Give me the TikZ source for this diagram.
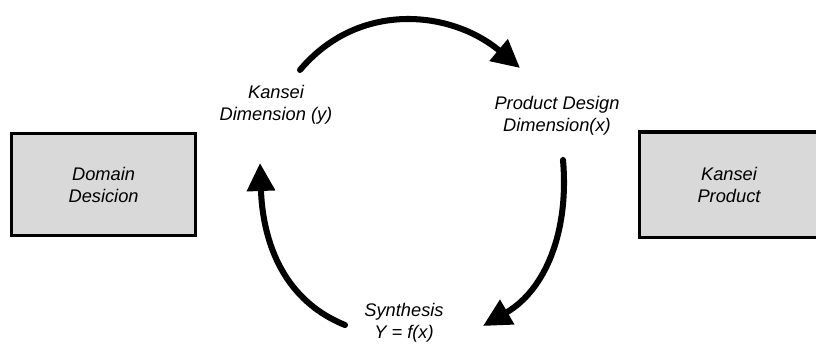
\documentclass[tikz,border=0pt]{standalone}
\usepackage{fontspec}
\setmainfont{Liberation Sans}
\usetikzlibrary{arrows.meta}

\definecolor{boxgray}{HTML}{D9D9D9}
\tikzset{
  box/.style={rectangle,draw=black,line width=2.4pt,fill=boxgray,minimum width=4.6cm,minimum height=2.55cm,align=center,font=\fontsize{13}{15.5}\selectfont\itshape},
  lbl/.style={align=center,font=\fontsize{13}{15.5}\selectfont\itshape},
  cyc/.style={line width=4.3pt,line cap=round,-{Triangle[length=0.7cm,width=0.68cm]}}
}

\begin{document}
\begin{tikzpicture}

      \clip (0,0) rectangle (20.4,8.725);

      \node[box] (D) at (2.59, 4.11){Domain\\Desicion};
      % right box is cut off by the edge of the page
      \node[box,draw=none,minimum width=4.4cm] (P) at (18.225, 4.11){};
      \draw[line width=2.4pt] (P.north east) -- (P.north west) -- (P.south west) -- (P.south east);
      \node[lbl] (Pt) at (18.225, 4.11){Kansei\\Product};

      \node[lbl] (ky) at (6.9, 6.1){Kansei\\Dimension (y)};
      \node[lbl] (px) at (13.925, 5.825){Product Design\\Dimension(x)};
      \node[lbl] (sy) at (10.1, 0.65){Synthesis\\Y = f(x)};

      \coordinate (a1) at (7.5, 6.975);
      \coordinate (a2) at (13.0, 7.025);
      \coordinate (b1) at (14.075, 4.725);
      \coordinate (b2) at (12.075, 0.575);
      \coordinate (c1) at (8.625, 0.6);
      \coordinate (c2) at (6.5, 4.65);

      \draw[cyc] (a1) to[out=50,in=140,looseness=1.05] (a2);
      \draw[cyc] (b1) to[out=-85,in=30] (b2);
      \draw[cyc] (c1) to[out=158,in=-88] (c2);

    \end{tikzpicture}
\end{document}
